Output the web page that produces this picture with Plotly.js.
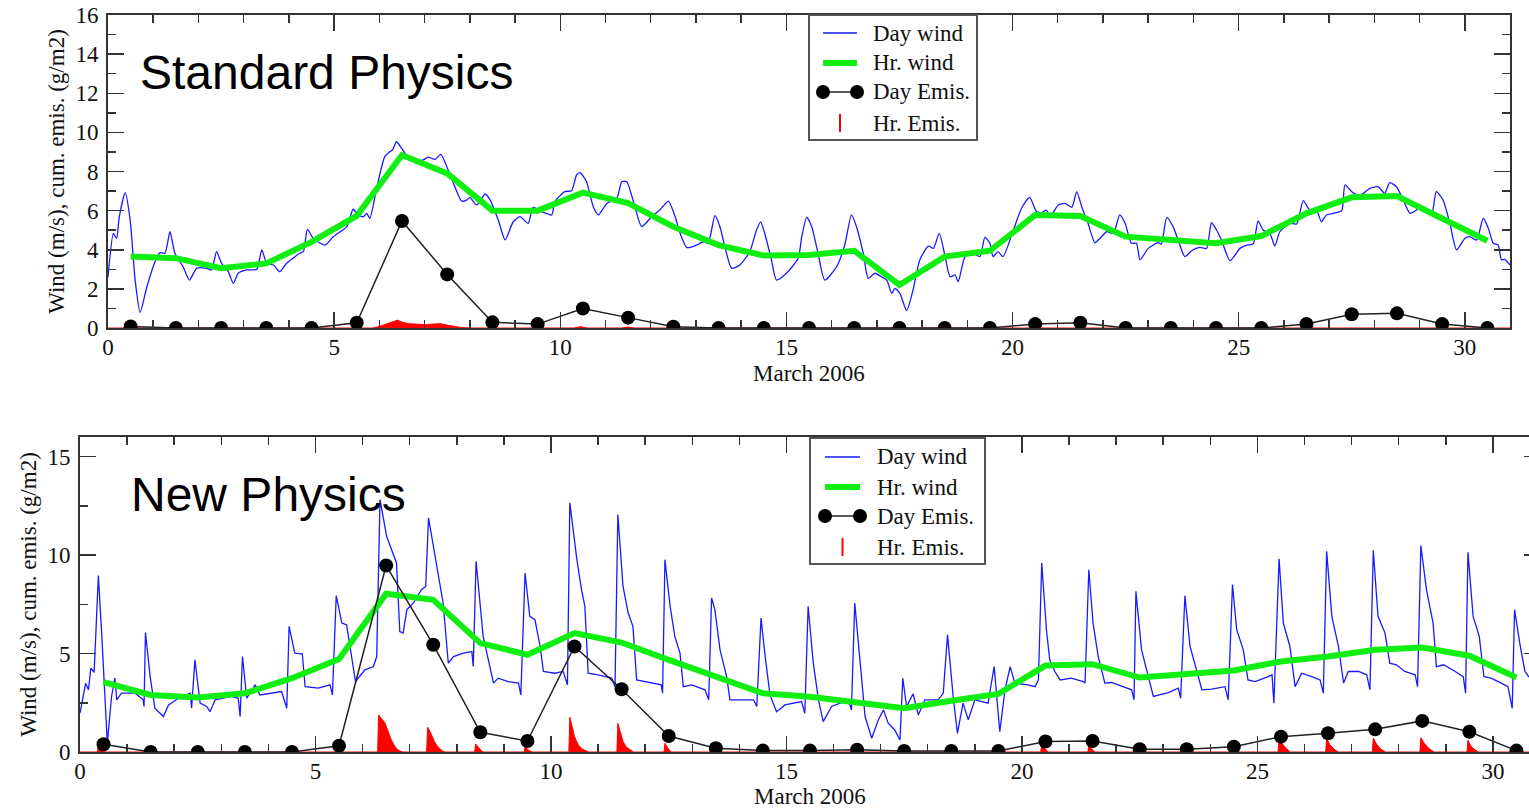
<!DOCTYPE html>
<html>
<head>
<meta charset="utf-8">
<script src="https://cdn.plot.ly/plotly-3.0.1.min.js"></script>
<style>
html, body { margin: 0; padding: 0; overflow: hidden; background: #fff; }
#chart { width: 1545px; height: 808px; }
</style>
</head>
<body>
<div id="chart"></div>
<script>
// ---------------- DATA ----------------
const legendLabels = ['Day wind', 'Hr. wind', 'Day Emis.', 'Hr. Emis.'];
const panelTitles = ['Standard Physics', 'New Physics'];
const xTitle = 'March 2006';
const yTitle = 'Wind (m/s), cum. emis. (g/m2)';

const days = [0.5,1.5,2.5,3.5,4.5,5.5,6.5,7.5,8.5,9.5,10.5,11.5,12.5,13.5,14.5,15.5,16.5,17.5,18.5,19.5,20.5,21.5,22.5,23.5,24.5,25.5,26.5,27.5,28.5,29.5,30.5];

// Standard physics
const stdHrWind = [3.65,3.57,3.06,3.3,4.4,5.73,8.84,7.9,6.0,6.0,6.92,6.38,5.18,4.24,3.7,3.73,3.95,2.2,3.65,3.95,5.78,5.73,4.67,4.53,4.33,4.7,5.86,6.68,6.75,5.6,4.46];
const stdDayEmis = [0.08,0,0,0,0,0.27,5.47,2.74,0.29,0.2,1.0,0.53,0.07,0,0,0,0,0,0,0,0.2,0.27,0,0,0,0,0.2,0.7,0.75,0.2,0];
const stdDayWindX = [0.0,0.12,0.19,0.25,0.38,0.49,0.6,0.71,0.86,1.04,1.15,1.26,1.37,1.48,1.66,1.8,1.96,2.18,2.29,2.4,2.51,2.66,2.77,2.88,3.07,3.29,3.4,3.51,3.66,3.8,3.95,4.24,4.32,4.41,4.54,4.8,4.98,5.28,5.42,5.53,5.65,5.72,5.79,5.94,6.12,6.23,6.29,6.38,6.49,6.6,6.79,6.97,7.08,7.23,7.36,7.52,7.67,7.82,7.93,8.0,8.15,8.34,8.45,8.63,8.78,8.96,9.11,9.29,9.4,9.59,9.81,9.88,10.1,10.25,10.36,10.44,10.58,10.73,10.84,11.03,11.25,11.36,11.47,11.65,11.8,12.02,12.2,12.39,12.54,12.65,12.8,13.02,13.16,13.27,13.42,13.53,13.64,13.79,13.97,14.19,14.34,14.43,14.56,14.67,14.78,15.0,15.26,15.34,15.45,15.56,15.7,15.85,16.11,16.29,16.44,16.55,16.7,16.81,16.96,17.1,17.22,17.33,17.4,17.51,17.66,17.8,17.95,18.14,18.25,18.38,18.51,18.62,18.73,18.8,18.95,19.13,19.28,19.39,19.5,19.57,19.68,19.79,20.02,20.2,20.38,20.53,20.65,20.75,20.83,21.01,21.16,21.31,21.42,21.53,21.67,21.82,21.93,22.08,22.23,22.37,22.49,22.63,22.74,22.82,23.0,23.22,23.29,23.41,23.55,23.7,23.81,23.96,24.14,24.29,24.4,24.51,24.62,24.81,25.03,25.18,25.32,25.43,25.54,25.69,25.8,25.91,26.13,26.28,26.43,26.57,26.72,26.83,26.94,27.09,27.28,27.35,27.5,27.64,27.76,27.9,28.09,28.23,28.34,28.49,28.64,28.79,28.93,29.08,29.27,29.37,29.52,29.67,29.82,30.0,30.11,30.26,30.41,30.52,30.63,30.74,30.81,30.88,31.0];
const stdDayWindY = [2.6,4.84,4.58,5.69,6.92,5.52,2.45,0.8,2.11,3.39,3.85,3.82,4.92,3.82,3.13,2.45,3.05,3.05,2.97,3.9,3.31,2.88,2.28,2.8,2.97,3.0,3.99,3.31,3.22,2.88,3.31,3.82,3.9,5.04,4.58,4.24,4.67,5.18,6.07,5.78,5.69,5.86,5.61,7.14,8.76,9.01,9.1,9.52,9.19,8.84,8.59,8.59,8.73,8.62,8.88,8.08,7.22,6.49,6.54,6.68,6.29,6.85,6.54,5.52,4.5,5.43,5.69,5.35,6.17,5.95,5.78,6.46,6.97,7.02,7.82,7.94,7.48,6.2,5.78,6.37,6.63,7.48,7.48,6.2,5.18,5.69,6.03,6.49,5.69,4.84,4.11,4.24,4.41,4.33,5.74,5.18,4.16,3.05,3.22,3.9,5.01,5.43,4.5,3.48,2.45,2.8,3.56,4.67,5.66,5.18,3.82,2.45,3.13,4.24,5.78,5.18,3.82,2.54,2.8,2.62,2.45,1.77,2.03,1.77,0.89,1.94,3.48,4.19,4.07,4.84,3.65,2.62,2.71,2.37,3.65,3.82,3.65,4.64,4.33,3.65,3.9,3.65,5.01,6.12,6.68,5.95,5.9,6.03,5.69,6.29,6.37,6.17,6.97,6.2,5.35,4.36,4.58,4.92,4.84,5.78,5.35,4.33,4.33,3.48,4.07,4.36,4.29,5.66,5.18,4.24,3.65,3.95,4.12,4.07,5.38,5.01,4.5,3.44,4.07,4.24,4.29,5.47,5.01,4.84,4.19,4.92,5.35,5.32,6.51,6.03,6.03,5.43,5.78,5.86,6.0,7.31,6.97,6.8,6.88,7.14,7.22,6.88,7.43,7.22,6.54,5.86,6.03,6.17,5.86,6.97,6.54,5.35,3.99,4.58,4.67,4.5,5.61,5.1,4.33,4.24,3.48,3.51,3.22];
const stdHrEmisX = [0,5.85,6.0,6.2,6.3,6.4,6.5,6.65,6.8,7.0,7.2,7.35,7.5,7.65,7.8,8.0,10.3,10.45,10.6,11.35,11.5,11.65,31];
const stdHrEmisY = [0,0,0.08,0.25,0.35,0.4,0.3,0.22,0.2,0.18,0.2,0.22,0.15,0.08,0.03,0,0,0.07,0,0,0.05,0,0];

// New physics
const newHrWind = [3.55,2.9,2.77,2.98,3.75,4.72,8.04,7.73,5.53,4.94,6.04,5.56,4.68,3.83,2.98,2.81,2.48,2.22,2.6,2.95,4.39,4.46,3.78,3.97,4.14,4.6,4.85,5.19,5.31,4.89,3.78];
const newDayEmis = [0.39,0,0,0,0,0.32,9.47,5.45,1.0,0.56,5.36,3.19,0.81,0.19,0.07,0.07,0.12,0.05,0.05,0.05,0.53,0.56,0.14,0.14,0.27,0.78,0.95,1.15,1.58,1.03,0.07];
const newDayWindX = [0.0,0.07,0.12,0.18,0.23,0.3,0.39,0.46,0.53,0.58,0.67,0.74,0.78,0.88,1.17,1.34,1.36,1.39,1.49,1.59,1.77,1.88,2.09,2.34,2.37,2.44,2.55,2.69,2.76,2.87,3.22,3.36,3.4,3.45,3.54,3.72,3.82,4.28,4.39,4.44,4.56,4.72,4.78,5.06,5.31,5.36,5.44,5.56,5.66,5.73,5.85,6.05,6.23,6.3,6.37,6.51,6.62,6.72,6.79,6.86,6.94,7.08,7.25,7.34,7.4,7.5,7.61,7.71,7.82,7.93,8.14,8.32,8.35,8.41,8.56,8.78,8.88,9.09,9.31,9.36,9.45,9.55,9.66,9.77,9.84,10.08,10.26,10.35,10.4,10.55,10.65,10.72,10.79,11.0,11.29,11.36,11.42,11.53,11.64,11.74,11.82,11.99,12.21,12.34,12.37,12.42,12.53,12.63,12.74,12.81,12.99,13.27,13.35,13.41,13.48,13.59,13.73,13.8,14.05,14.3,14.37,14.46,14.54,14.65,14.79,14.97,15.32,15.39,15.46,15.57,15.68,15.78,15.96,16.31,16.38,16.45,16.56,16.67,16.81,16.95,17.06,17.16,17.3,17.41,17.47,17.55,17.69,17.8,17.94,18.22,18.33,18.42,18.54,18.63,18.75,18.86,19.0,19.28,19.41,19.53,19.64,19.75,19.85,20.13,20.28,20.35,20.42,20.52,20.59,20.7,20.81,21.05,21.3,21.34,21.42,21.51,21.62,21.76,21.9,22.12,22.33,22.38,22.42,22.54,22.68,22.79,23.11,23.32,23.37,23.46,23.57,23.71,23.82,24.03,24.31,24.38,24.47,24.56,24.7,24.8,24.95,25.23,25.31,25.35,25.46,25.55,25.69,25.8,25.94,26.15,26.33,26.4,26.47,26.58,26.72,26.83,26.93,27.15,27.32,27.39,27.46,27.56,27.71,27.81,27.95,28.13,28.35,28.4,28.47,28.59,28.73,28.8,28.95,29.2,29.37,29.42,29.47,29.58,29.71,29.81,29.96,30.18,30.32,30.41,30.46,30.57,30.68,30.76,30.9,31.0];
const newDayWindY = [1.97,2.82,3.49,3.16,4.26,4.04,8.96,6.04,2.82,0.44,2.82,3.75,2.65,2.99,2.99,2.65,2.31,6.07,3.83,2.22,1.8,2.39,2.73,2.99,2.22,4.68,2.48,2.31,2.05,2.65,2.82,2.73,1.8,4.85,2.73,3.41,2.9,3.07,2.22,6.38,5.02,4.99,3.32,3.24,3.41,2.9,7.94,6.55,6.46,5.36,3.58,4.17,4.34,4.85,12.82,10.96,10.19,9.6,6.12,6.04,7.23,7.57,8.24,8.41,11.89,10.53,8.92,7.57,4.51,4.85,5.02,5.1,4.34,9.69,5.87,3.5,3.75,3.58,3.5,2.9,9.09,6.89,6.72,5.36,4.09,4.0,4.09,3.41,12.66,9.77,8.24,7.4,4.0,3.92,3.75,3.32,12.06,8.41,7.06,6.38,3.66,3.58,3.5,3.41,2.99,9.77,7.4,5.87,5.02,3.32,3.41,3.16,2.65,7.82,7.23,5.19,3.83,2.65,2.65,2.65,2.31,6.8,5.02,2.9,2.05,2.39,2.56,1.97,7.4,4.51,2.65,1.54,2.31,2.65,2.14,7.57,4.68,1.8,0.7,1.63,2.14,1.46,1.12,0.61,3.75,2.31,2.95,1.88,2.65,2.65,2.99,5.95,2.82,0.95,2.48,1.63,2.65,2.48,4.34,1.03,3.16,4.34,3.5,3.41,3.32,3.66,9.6,6.21,4.68,4.09,3.66,3.75,3.58,3.5,9.26,6.55,4.85,3.5,3.53,3.32,3.16,2.65,8.16,5.19,3.83,2.82,3.02,3.24,2.73,7.94,5.36,4.17,3.16,3.19,3.32,2.65,8.5,6.21,5.19,3.66,3.58,3.83,3.92,2.48,9.81,6.55,5.36,3.32,4.0,3.83,3.66,2.99,10.19,6.89,5.36,3.5,4.09,4.09,3.92,3.16,10.25,6.89,6.04,4.51,4.43,4.09,3.92,3.32,10.48,8.24,6.55,4.34,4.43,4.09,3.83,2.99,10.14,6.89,5.87,3.83,3.75,3.5,3.32,2.22,7.23,5.53,4.09,3.83,3.7,3.6];
const newHrEmisX = [0,0.37,0.39,0.45,0.5,0.55,5.42,5.44,5.55,6.32,6.34,6.4,6.47,6.55,6.61,6.68,6.75,6.85,7.36,7.38,7.45,7.52,7.6,7.7,7.75,8.38,8.4,8.47,8.55,9.43,9.45,9.52,9.6,10.38,10.4,10.45,10.5,10.57,10.65,10.8,11.4,11.42,11.47,11.53,11.6,11.75,12.4,12.42,12.48,12.55,20.4,20.42,20.48,20.55,21.4,21.42,21.48,21.55,22.41,22.42,22.5,23.45,23.46,23.55,24.45,24.47,24.55,24.62,25.44,25.46,25.52,25.6,25.7,26.45,26.47,26.53,26.62,26.72,27.44,27.46,27.53,27.62,27.72,28.45,28.47,28.54,28.64,28.75,29.45,29.47,29.53,29.62,29.7,31];
const newHrEmisY = [0,0,0.36,0.2,0.05,0,0,0.12,0,0,1.88,1.7,1.5,1.0,0.61,0.3,0.1,0,0,1.26,0.95,0.55,0.25,0.05,0,0,0.41,0.2,0,0,0.27,0.1,0,0,1.76,1.3,0.78,0.4,0.17,0,0,1.46,1.0,0.53,0.25,0,0,0.44,0.2,0,0,0.44,0.2,0,0,0.36,0.15,0,0,0.1,0,0,0.1,0,0,0.25,0.1,0,0,0.87,0.45,0.2,0,0,0.7,0.4,0.15,0,0,0.7,0.4,0.15,0,0,0.72,0.45,0.18,0,0,0.6,0.3,0.1,0,0];

// ---------------- STYLE ----------------
const W = 1545, H = 808;
const fx = p => p / W;
const fy = p => 1 - p / H;
const serif = '"Liberation Serif", "Times New Roman", serif';
const axisCol = '#333333';
const BLUE = '#1a1aff', GREEN = '#11ee11', RED = '#ff0000', BLACK = '#000000';

function panelTraces(xa, ya, hrX, hrY, dwX, dwY, hrWind, dayEmis, spline) {
  return [
    {x: hrX, y: hrY, xaxis: xa, yaxis: ya, type: 'scatter', mode: 'lines', name: legendLabels[3],
     line: {color: RED, width: 1}, fill: 'tozeroy', fillcolor: RED, showlegend: false, hoverinfo: 'skip'},
    {x: dwX, y: dwY, xaxis: xa, yaxis: ya, type: 'scatter', mode: 'lines', name: legendLabels[0],
     line: {color: BLUE, width: 1.3, shape: spline ? 'spline' : 'linear', smoothing: 0.6}, showlegend: false},
    {x: days, y: hrWind, xaxis: xa, yaxis: ya, type: 'scatter', mode: 'lines', name: legendLabels[1],
     line: {color: GREEN, width: 6}, showlegend: false},
    {x: days, y: dayEmis, xaxis: xa, yaxis: ya, type: 'scatter', mode: 'lines+markers', name: legendLabels[2],
     line: {color: '#222', width: 1.5}, marker: {color: BLACK, size: 14}, showlegend: false}
  ];
}

const data = [].concat(
  panelTraces('x', 'y', stdHrEmisX, stdHrEmisY, stdDayWindX, stdDayWindY, stdHrWind, stdDayEmis, true),
  panelTraces('x2', 'y2', newHrEmisX, newHrEmisY, newDayWindX, newDayWindY, newHrWind, newDayEmis, false)
);

function xAxis(domain, anchor) {
  return {
    domain: domain, anchor: anchor, range: [0, 31], tick0: 0, dtick: 5,
    showline: true, linecolor: axisCol, linewidth: 2, mirror: 'ticks',
    ticks: 'inside', ticklen: 16, tickwidth: 1.5, tickcolor: axisCol,
    minor: {dtick: 1, ticks: 'inside', ticklen: 8, tickwidth: 1.5, tickcolor: axisCol},
    showgrid: false, zeroline: false, automargin: false,
    tickfont: {family: serif, size: 23, color: '#111'},
    ticklabelstandoff: -3
  };
}
function yAxis(domain, anchor, dtick, minorDtick, mirror) {
  return {
    domain: domain, anchor: anchor, range: [0, 16], tick0: 0, dtick: dtick,
    showline: true, linecolor: axisCol, linewidth: 2, mirror: mirror,
    ticks: 'inside', ticklen: 16, tickwidth: 1.5, tickcolor: axisCol,
    minor: {dtick: minorDtick, ticks: 'inside', ticklen: 8, tickwidth: 1.5, tickcolor: axisCol},
    showgrid: false, zeroline: false, automargin: false,
    tickfont: {family: serif, size: 23, color: '#111'},
    ticklabelstandoff: 3,
    title: {text: yTitle, font: {family: serif, size: 23, color: '#111'}, standoff: 4}
  };
}

// legend drawing helpers (positions in pixels)
function legendBlock(box, rowsY, sx0, sx1, tx) {
  const shapes = [], ann = [];
  shapes.push({type: 'rect', xref: 'paper', yref: 'paper', x0: fx(box[0]), x1: fx(box[1]), y0: fy(box[3]), y1: fy(box[2]),
    line: {color: '#555', width: 2}, fillcolor: 'white', layer: 'above'});
  shapes.push({type: 'line', xref: 'paper', yref: 'paper', x0: fx(sx0), x1: fx(sx1), y0: fy(rowsY[0]), y1: fy(rowsY[0]),
    line: {color: BLUE, width: 1.3}, layer: 'above'});
  shapes.push({type: 'line', xref: 'paper', yref: 'paper', x0: fx(sx0), x1: fx(sx1), y0: fy(rowsY[1]), y1: fy(rowsY[1]),
    line: {color: GREEN, width: 6}, layer: 'above'});
  shapes.push({type: 'line', xref: 'paper', yref: 'paper', x0: fx(sx0), x1: fx(sx1), y0: fy(rowsY[2]), y1: fy(rowsY[2]),
    line: {color: '#222', width: 1.5}, layer: 'above'});
  [sx0, sx1].forEach(cx => shapes.push({type: 'circle', xref: 'paper', yref: 'paper',
    x0: fx(cx - 7), x1: fx(cx + 7), y0: fy(rowsY[2] + 7), y1: fy(rowsY[2] - 7),
    line: {color: BLACK, width: 0}, fillcolor: BLACK, layer: 'above'}));
  const mx = (sx0 + sx1) / 2;
  shapes.push({type: 'line', xref: 'paper', yref: 'paper', x0: fx(mx), x1: fx(mx), y0: fy(rowsY[3] + 9), y1: fy(rowsY[3] - 9),
    line: {color: RED, width: 2}, layer: 'above'});
  legendLabels.forEach((t, i) => ann.push({text: t, xref: 'paper', yref: 'paper', x: fx(tx), y: fy(rowsY[i]),
    xanchor: 'left', yanchor: 'middle', showarrow: false, font: {family: serif, size: 23, color: '#111'}}));
  return {shapes, ann};
}

const lg1 = legendBlock([809, 977, 15, 140], [33, 63, 92, 123], 823, 857, 871);
const lg2 = legendBlock([810, 985, 438, 564], [457, 487, 516, 547], 825, 860, 875);

const textAnn = [
  {text: panelTitles[0], xref: 'paper', yref: 'paper', x: fx(138), y: fy(73), xanchor: 'left', yanchor: 'middle',
   showarrow: false, font: {family: '"Liberation Sans", Arial, sans-serif', size: 48, color: '#000'}},
  {text: panelTitles[1], xref: 'paper', yref: 'paper', x: fx(129), y: fy(494), xanchor: 'left', yanchor: 'middle',
   showarrow: false, font: {family: '"Liberation Sans", Arial, sans-serif', size: 48, color: '#000'}},
  {text: xTitle, xref: 'paper', yref: 'paper', x: fx(809), y: fy(373), xanchor: 'center', yanchor: 'middle',
   showarrow: false, font: {family: serif, size: 23, color: '#111'}},
  {text: xTitle, xref: 'paper', yref: 'paper', x: fx(810), y: fy(796), xanchor: 'center', yanchor: 'middle',
   showarrow: false, font: {family: serif, size: 23, color: '#111'}}
];

const layout = {
  width: W, height: H,
  margin: {l: 0, r: 0, t: 0, b: 0},
  paper_bgcolor: 'white', plot_bgcolor: 'white',
  showlegend: false,
  xaxis: xAxis([fx(108), fx(1510)], 'y'),
  yaxis: yAxis([fy(328), fy(15)], 'x', 2, 1, 'ticks'),
  xaxis2: xAxis([fx(80), fx(1540)], 'y2'),
  yaxis2: yAxis([fy(752), fy(437)], 'x2', 5, 2.5, 'ticks'),
  shapes: lg1.shapes.concat(lg2.shapes),
  annotations: textAnn.concat(lg1.ann, lg2.ann)
};

Plotly.newPlot('chart', data, layout, {staticPlot: true, displayModeBar: false});
</script>
</body>
</html>
